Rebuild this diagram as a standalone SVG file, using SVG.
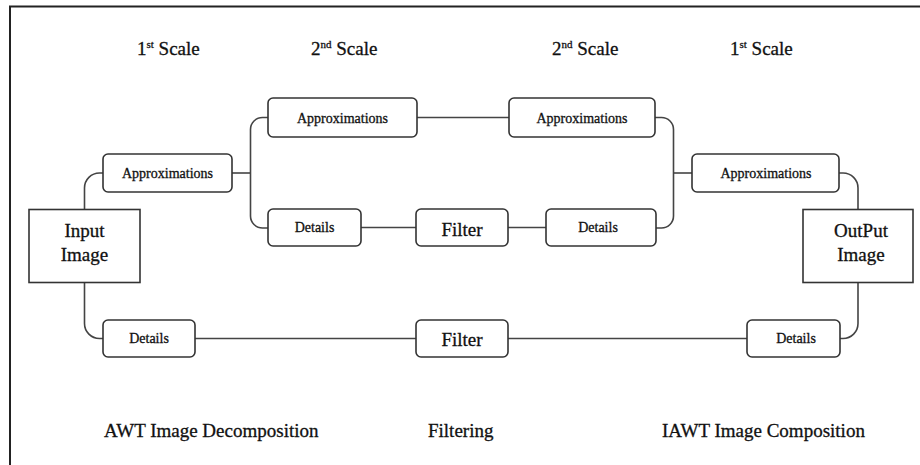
<svg xmlns="http://www.w3.org/2000/svg" width="920" height="465" viewBox="0 0 920 465">
  <style>
    .frame { fill: none; stroke: #222; stroke-width: 2; }
    .box { fill: #fff; stroke: #333; stroke-width: 1.6; }
    .wire { fill: none; stroke: #444; stroke-width: 1.6; }
    text { font-family: "Liberation Serif", "Times New Roman", serif; fill: #111; stroke: #111; stroke-width: 0.3; }
    .big { font-size: 19px; }
    .small { font-size: 14px; }
    .mid { text-anchor: middle; }
  </style>

  <rect x="0" y="0" width="920" height="465" fill="#fff"/>
  <path class="frame" d="M10,465 V6.5 H920"/>

  <!-- column headings -->
  <g id="headings">
    <text class="big" x="137" y="55">1<tspan font-size="11" dy="-7">st</tspan><tspan dy="7"> Scale</tspan></text>
    <text class="big" x="311" y="55">2<tspan font-size="11" dy="-7">nd</tspan><tspan dy="7"> Scale</tspan></text>
    <text class="big" x="552" y="55">2<tspan font-size="11" dy="-7">nd</tspan><tspan dy="7"> Scale</tspan></text>
    <text class="big" x="730" y="55">1<tspan font-size="11" dy="-7">st</tspan><tspan dy="7"> Scale</tspan></text>
  </g>

  <!-- connectors -->
  <g id="connectors">
    <path class="wire" d="M84.5,209.5 V188 A15,15 0 0 1 99.5,173 H103"/>
    <path class="wire" d="M84.5,282.5 V323.5 A15,15 0 0 0 99.5,338.5 H103"/>
    <path class="wire" d="M232,173 H250.5"/>
    <path class="wire" d="M268,117.5 H262.5 A12,12 0 0 0 250.5,129.5 V216 A12,12 0 0 0 262.5,228 H268"/>
    <path class="wire" d="M417,117.5 H509"/>
    <path class="wire" d="M361,227.5 H416"/>
    <path class="wire" d="M508,227.5 H546"/>
    <path class="wire" d="M655,117.5 H661.5 A12,12 0 0 1 673.5,129.5 V216 A12,12 0 0 1 661.5,228 H656"/>
    <path class="wire" d="M673.5,173 H692"/>
    <path class="wire" d="M839,173 H843 A15,15 0 0 1 858,188 V209.5"/>
    <path class="wire" d="M858,282.5 V323.5 A15,15 0 0 1 843,338.5 H840"/>
    <path class="wire" d="M195,338.5 H416"/>
    <path class="wire" d="M508,338.5 H747"/>
  </g>

  <g id="input-image">
    <rect class="box" x="29" y="209.5" width="111" height="73"/>
    <text class="big mid" x="84.5" y="237">Input</text>
    <text class="big mid" x="84.5" y="261">Image</text>
  </g>

  <g id="approx-1-left">
    <rect class="box" x="103" y="154" width="129" height="38" rx="5"/>
    <text class="small mid" x="167.5" y="178">Approximations</text>
  </g>

  <g id="details-1-left">
    <rect class="box" x="103" y="320" width="92" height="37" rx="5"/>
    <text class="small mid" x="149" y="343">Details</text>
  </g>

  <g id="approx-2-left">
    <rect class="box" x="268" y="98" width="149" height="39" rx="5"/>
    <text class="small mid" x="342.5" y="122.5">Approximations</text>
  </g>

  <g id="details-2-left">
    <rect class="box" x="268" y="209" width="93" height="37" rx="5"/>
    <text class="small mid" x="314.5" y="232">Details</text>
  </g>

  <g id="filter-2">
    <rect class="box" x="416" y="209" width="92" height="37" rx="5"/>
    <text class="big mid" x="462" y="236">Filter</text>
  </g>

  <g id="filter-1">
    <rect class="box" x="416" y="320" width="92" height="37" rx="5"/>
    <text class="big mid" x="462" y="346">Filter</text>
  </g>

  <g id="approx-2-right">
    <rect class="box" x="509" y="98" width="146" height="39" rx="5"/>
    <text class="small mid" x="582" y="122.5">Approximations</text>
  </g>

  <g id="details-2-right">
    <rect class="box" x="546" y="209" width="110" height="37" rx="5"/>
    <text class="small mid" x="598" y="232">Details</text>
  </g>

  <g id="approx-1-right">
    <rect class="box" x="692" y="154" width="147" height="38" rx="5"/>
    <text class="small mid" x="766" y="178">Approximations</text>
  </g>

  <g id="details-1-right">
    <rect class="box" x="747" y="320" width="93" height="37" rx="5"/>
    <text class="small mid" x="796" y="343">Details</text>
  </g>

  <g id="output-image">
    <rect class="box" x="803" y="209.5" width="110" height="73"/>
    <text class="big mid" x="861" y="237">OutPut</text>
    <text class="big mid" x="861" y="261">Image</text>
  </g>

  <!-- stage captions -->
  <g id="captions">
    <text class="big" x="104" y="437">AWT Image Decomposition</text>
    <text class="big" x="428" y="437">Filtering</text>
    <text class="big" x="662" y="437">IAWT Image Composition</text>
  </g>
</svg>
